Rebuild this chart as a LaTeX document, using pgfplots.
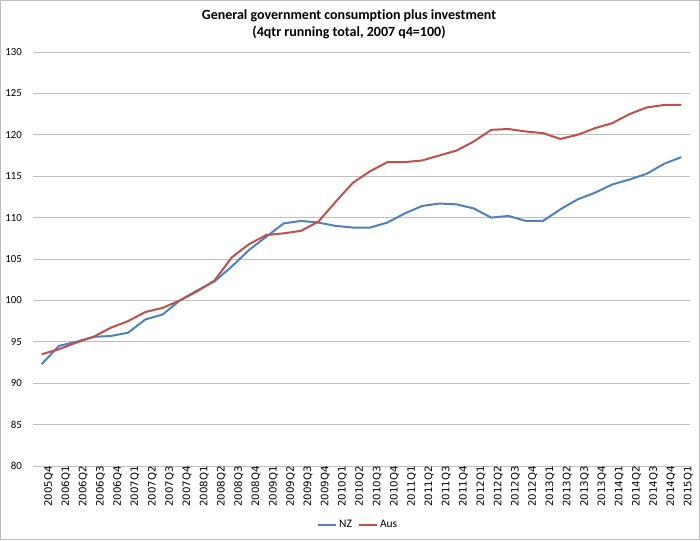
\documentclass[border=0pt]{standalone}
\usepackage{fontspec}
\setmainfont{Carlito}[Ligatures=NoCommon]
\newfontfamily\labelfont{DejaVu Sans}
\usepackage{pgfplots}
\pgfplotsset{compat=1.18}
\definecolor{nzblue}{HTML}{4F81BD}
\definecolor{ausred}{HTML}{C0504D}
\definecolor{gridgrey}{HTML}{BFBFBF}
\definecolor{framegrey}{HTML}{BFBFBF}

% 4qtr running total, 2007 q4 = 100 ; x = quarter index from 2005Q4
\pgfplotstableread{
x   nz     aus
0   92.3   93.5
1   94.5   94.1
2   95.0   94.9
3   95.6   95.6
4   95.7   96.7
5   96.1   97.5
6   97.7   98.6
7   98.3   99.1
8   100.0  100.0
9   101.2  101.1
10  102.3  102.4
11  104.1  105.2
12  106.1  106.8
13  107.7  107.9
14  109.3  108.1
15  109.6  108.4
16  109.4  109.5
17  109.0  111.9
18  108.8  114.2
19  108.8  115.6
20  109.4  116.7
21  110.5  116.7
22  111.4  116.9
23  111.7  117.5
24  111.6  118.1
25  111.1  119.2
26  110.0  120.6
27  110.2  120.7
28  109.6  120.4
29  109.6  120.2
30  111.0  119.5
31  112.2  120.0
32  113.0  120.8
33  114.0  121.4
34  114.6  122.5
35  115.3  123.3
36  116.5  123.6
37  117.3  123.6
}\govdata

\begin{document}
\begin{tikzpicture}
\useasboundingbox (0,0) rectangle (700pt,540pt);
\draw[framegrey, line width=0.8pt] (0.5pt,0.5pt) rectangle (699.5pt,539.5pt);
\begin{axis}[
  at={(33pt,74pt)}, anchor=south west,
  scale only axis,
  width=657pt, height=414pt,
  xmin=-0.5, xmax=37.5,
  ymin=80, ymax=130,
  ytick={80,85,...,130},
  xtick={0,...,37},
  xticklabels={2005Q4,2006Q1,2006Q2,2006Q3,2006Q4,2007Q1,2007Q2,2007Q3,2007Q4,
    2008Q1,2008Q2,2008Q3,2008Q4,2009Q1,2009Q2,2009Q3,2009Q4,2010Q1,2010Q2,2010Q3,
    2010Q4,2011Q1,2011Q2,2011Q3,2011Q4,2012Q1,2012Q2,2012Q3,2012Q4,2013Q1,2013Q2,
    2013Q3,2013Q4,2014Q1,2014Q2,2014Q3,2014Q4,2015Q1},
  axis line style={draw=none},
  tick style={draw=none},
  ymajorgrids,
  major grid style={gridgrey, line width=0.8pt},
  /pgf/number format/assume math mode=true,
  yticklabel style={font=\fontsize{10.8}{12}\selectfont, inner sep=0pt, xshift=-11pt, anchor=east},
  xticklabel style={font=\labelfont\fontsize{10.2}{11}\selectfont, rotate=90, anchor=east, inner xsep=0pt, inner ysep=0pt, yshift=-7pt},
  legend style={at={(0.495,0)}, yshift=-59pt, anchor=center, draw=none, fill=none,
    legend columns=-1, font=\fontsize{11.5}{13}\selectfont,
    /tikz/every even column/.append style={column sep=4pt}},
  legend image code/.code={\draw[#1] (0pt,0pt) -- (18pt,0pt);},
]
\addplot[nzblue, line width=2pt] table[x=x, y=nz] {\govdata};
\addplot[ausred, line width=2pt] table[x=x, y=aus] {\govdata};
\legend{NZ,Aus}
\end{axis}
\node[font=\bfseries\fontsize{14}{17}\selectfont, align=center] at (349pt,516pt)
  {General government consumption plus investment\\(4qtr running total, 2007 q4=100)};
\end{tikzpicture}
\end{document}
